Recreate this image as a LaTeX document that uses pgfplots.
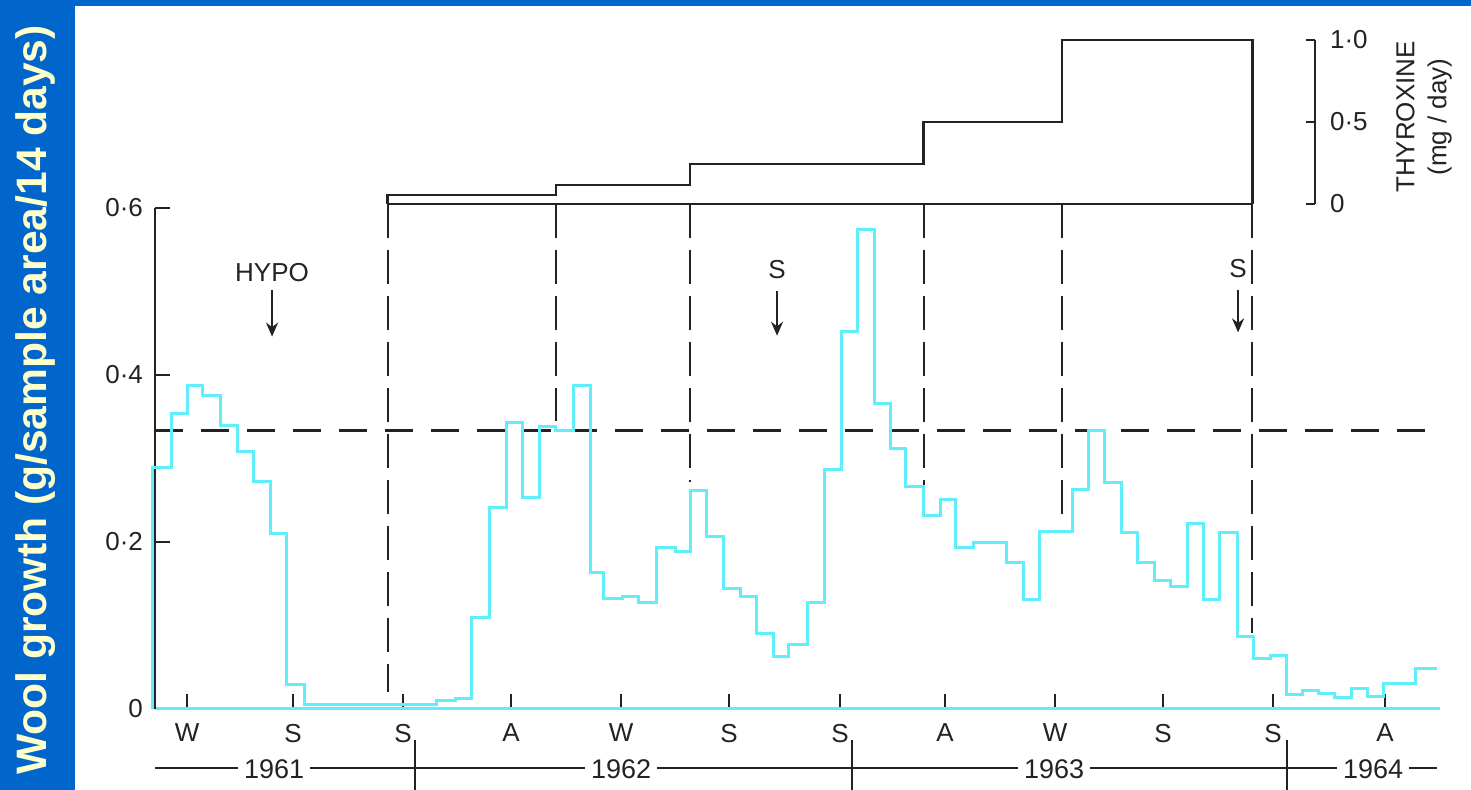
\documentclass[border=0pt]{standalone}
\usepackage{pgfplots}
\pgfplotsset{compat=1.18}
\usepackage{fontspec}
\setmainfont{Liberation Sans}
\usetikzlibrary{arrows.meta}
\definecolor{bgblue}{RGB}{0,102,204}
\definecolor{lblyellow}{RGB}{255,255,204}
\definecolor{trace}{RGB}{95,238,250}
\definecolor{ink}{RGB}{35,35,35}
\newcommand{\lf}{\fontsize{13}{15}\selectfont}
\begin{document}
\begin{tikzpicture}
\useasboundingbox (0,0) rectangle (735.5pt,395pt);
\clip (0,0) rectangle (735.5pt,395pt);
\fill[white] (0,0) rectangle (735.5pt,395pt);
\fill[bgblue] (0,0) rectangle (37.5pt,395pt);
\fill[bgblue] (0,392pt) rectangle (735.5pt,395pt);
\node[rotate=90, anchor=base, text=lblyellow, font=\fontsize{21.3}{25}\selectfont\bfseries] at (23.5pt,195pt) {Wool growth (g/sample area/14 days)};
% thyroxine label
\node[rotate=90, align=center, text=ink, font=\lf] at (712pt,336.5pt) {THYROXINE\\[1pt](mg / day)};

% ---------------- wool growth axis ----------------
\begin{axis}[
  at={(77.5pt,40.5pt)}, anchor=south west,
  scale only axis, width=642.5pt, height=250.5pt,
  xmin=0.12, xmax=76.74, ymin=0, ymax=0.6,
  clip=false,
  axis x line=bottom, axis y line=left,
  x axis line style={-, trace, line width=1.5pt},
  y axis line style={-, ink, line width=0.8pt},
  tick align=inside,
  major tick length=7.5pt,
  tick style={ink, line width=0.8pt},
  xtick={2.03,8.35,14.91,21.35,27.91,34.35,40.97,47.23,53.79,60.23,66.79,73.46},
  xticklabels={W,S,S,A,W,S,S,A,W,S,S,A},
  ytick={0.2,0.4,0.6},
  yticklabels={0·2,0·4,0·6},
  extra y ticks={0}, extra y tick labels={0},
  extra y tick style={major tick length=0pt},
  ticklabel style={font=\lf, text=ink},
  xticklabel style={yshift=-4pt},
  yticklabel style={xshift=-2.5pt},
]
% horizontal dashed reference line
\addplot[ink, line width=1.4pt, dash pattern=on 14pt off 9pt] coordinates {(0.12,0.334) (76.74,0.334)};
% vertical dashed lines
\addplot[ink, line width=1.1pt, dash pattern=on 17pt off 6pt] coordinates {(14.0,0.605) (14.0,0.020)};
\addplot[ink, line width=1.1pt, dash pattern=on 17pt off 6pt] coordinates {(24.03,0.605) (24.03,0.345)};
\addplot[ink, line width=1.1pt, dash pattern=on 17pt off 6pt] coordinates {(32.02,0.605) (32.02,0.272)};
\addplot[ink, line width=1.1pt, dash pattern=on 17pt off 6pt] coordinates {(45.95,0.605) (45.95,0.236)};
\addplot[ink, line width=1.1pt, dash pattern=on 17pt off 6pt] coordinates {(54.20,0.605) (54.20,0.220)};
\addplot[ink, line width=1.1pt, dash pattern=on 17pt off 6pt] coordinates {(65.55,0.605) (65.55,0.091)};
% wool growth trace
\addplot[trace, line width=1.5pt, const plot mark left] coordinates {
(0,0) (0,0.289) (1.13,0.354) (2.03,0.388) (2.98,0.376) (4.05,0.340) (5.01,0.308)
(6.02,0.272) (6.98,0.210) (7.99,0.029) (9.06,0.005) (16.93,0.010) (18.01,0.013)
(19.02,0.109) (20.04,0.241) (21.05,0.343) (22.06,0.253) (23.02,0.338) (24.03,0.334)
(25.10,0.388) (26.06,0.164) (26.89,0.132) (27.97,0.135) (28.92,0.127) (30.05,0.193)
(31.13,0.189) (32.02,0.262) (32.98,0.207) (33.99,0.144) (35.06,0.135) (35.96,0.090)
(36.97,0.063) (37.92,0.077) (39.00,0.127) (40.01,0.287) (41.03,0.452) (41.98,0.574)
(43.05,0.366) (43.95,0.312) (44.84,0.267) (45.92,0.232) (46.93,0.251) (47.88,0.193)
(48.90,0.199) (50.92,0.176) (51.88,0.131) (52.83,0.213) (54.80,0.263) (55.81,0.333)
(56.71,0.271) (57.72,0.211) (58.68,0.175) (59.69,0.154) (60.70,0.147) (61.66,0.222)
(62.61,0.131) (63.57,0.211) (64.64,0.087) (65.59,0.060) (66.61,0.064) (67.56,0.017)
(68.57,0.022) (69.47,0.018) (70.42,0.014) (71.44,0.024) (72.39,0.015) (73.35,0.031)
(75.25,0.049) (76.56,0.049)};
% annotations
\node[font=\lf, text=ink] at (axis cs:7.10,0.523) {HYPO};
\draw[ink, line width=1.1pt, -{Stealth[length=7pt,width=6pt]}] (axis cs:7.10,0.502) -- (axis cs:7.10,0.446);
\node[font=\lf, text=ink] at (axis cs:37.21,0.526) {S};
\draw[ink, line width=1.1pt, -{Stealth[length=7pt,width=6pt]}] (axis cs:37.21,0.500) -- (axis cs:37.21,0.447);
\node[font=\lf, text=ink] at (axis cs:64.70,0.528) {S};
\draw[ink, line width=1.1pt, -{Stealth[length=7pt,width=6pt]}] (axis cs:64.70,0.502) -- (axis cs:64.70,0.451);
% year line
\draw[ink, line width=0.8pt] (axis cs:0.12,-0.0707) -- (axis cs:76.56,-0.0707);
\draw[ink, line width=0.8pt] (axis cs:15.62,-0.037) -- (axis cs:15.62,-0.10);
\draw[ink, line width=0.8pt] (axis cs:41.68,-0.037) -- (axis cs:41.68,-0.10);
\draw[ink, line width=0.8pt] (axis cs:67.62,-0.037) -- (axis cs:67.62,-0.10);
\node[fill=white, inner xsep=3pt, inner ysep=1pt, font=\fontsize{13.5}{15}\selectfont, text=ink] at (axis cs:7.22,-0.0719) {1961};
\node[fill=white, inner xsep=3pt, inner ysep=1pt, font=\fontsize{13.5}{15}\selectfont, text=ink] at (axis cs:27.91,-0.0719) {1962};
\node[fill=white, inner xsep=3pt, inner ysep=1pt, font=\fontsize{13.5}{15}\selectfont, text=ink] at (axis cs:53.73,-0.0719) {1963};
\node[fill=white, inner xsep=3pt, inner ysep=1pt, font=\fontsize{13.5}{15}\selectfont, text=ink] at (axis cs:72.75,-0.0719) {1964};
\end{axis}

% ---------------- thyroxine axis ----------------
\begin{axis}[
  at={(77.5pt,293pt)}, anchor=south west,
  scale only axis, width=580pt, height=82pt,
  xmin=0.12, xmax=69.29, ymin=0, ymax=1,
  clip=false,
  axis x line=none, axis y line=right,
  y axis line style={-, ink, line width=1pt},
  xtick=\empty,
  tick align=inside, major tick length=4.5pt,
  tick style={ink, line width=1pt},
  ytick={0,0.5,1}, yticklabels={0,0·5,1·0},
  yticklabel style={font=\lf, text=ink, xshift=4pt},
]
\addplot[ink, line width=1.3pt, const plot mark left] coordinates {
(14.0,0) (14.0,0.055) (24.03,0.116) (32.02,0.244) (45.95,0.5) (54.20,1.0) (65.55,1.0) (65.55,0)};
\addplot[ink, line width=1.3pt] coordinates {(14.0,0) (65.55,0)};
\end{axis}
\end{tikzpicture}
\end{document}
